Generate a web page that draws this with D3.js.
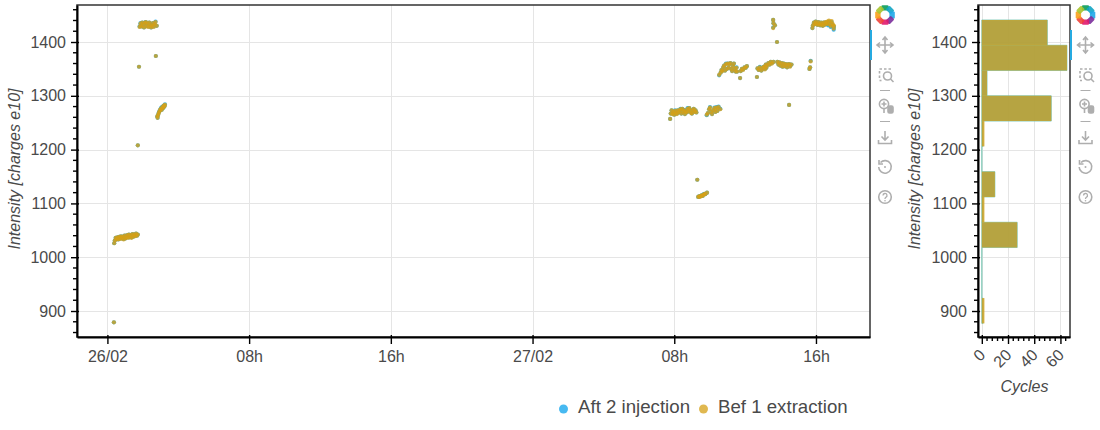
<!DOCTYPE html>
<html>
<head>
<meta charset="utf-8">
<script src="https://cdn.jsdelivr.net/npm/d3@7"></script>
<style>
html,body{margin:0;padding:0;background:#fff;}
svg{display:block;}
text{font-family:"Liberation Sans",Helvetica,Arial,sans-serif;}
</style>
</head>
<body>
<svg id="chart" width="1100" height="430"></svg>
<script>
// ---------- data ----------
const seriesNames = ["Aft 2 injection", "Bef 1 extraction"];
const seriesColors = ["#09a2ec", "#d6a016"];
const startDate = "2021-02-26T00:00:00Z";
// hours since 26/02 00:00
const cycleHours = [
0.37,0.38,0.42,0.47,0.52,0.57,0.62,0.67,0.72,0.77,0.82,0.87,0.92,0.97,1.02,1.07,1.12,1.17,1.22,1.27,1.32,1.37,1.42,1.47,1.52,1.57,1.62,1.67,1.72,
1.72,1.78,1.82,1.87,1.92,1.97,2.02,2.07,2.12,2.17,2.22,2.27,2.32,2.37,2.42,2.47,2.52,2.57,2.62,2.67,2.72,2.78,2.74,
2.81,2.83,2.86,2.90,2.94,2.98,3.02,3.06,3.10,3.14,3.18,3.22,3.25,
31.76,31.80,31.85,31.90,31.95,32.00,32.05,32.10,32.15,32.20,32.25,32.30,32.35,32.40,32.45,32.50,32.55,32.60,32.65,32.70,32.75,32.80,32.85,32.90,32.95,33.00,33.05,33.10,33.15,33.20,33.25,
33.30,33.35,33.40,33.45,33.50,33.55,33.60,33.65,33.70,33.75,33.85,
33.83,33.90,33.96,34.02,34.08,34.14,34.20,34.26,34.32,34.38,34.44,34.50,34.60,
34.53,34.62,34.67,34.72,34.77,34.82,34.87,34.92,34.97,35.02,35.07,35.12,35.17,35.22,35.27,35.32,35.37,35.42,35.47,35.52,35.55,
35.71,35.75,35.82,35.89,35.96,36.03,36.10,
36.67,36.70,36.77,36.84,36.91,36.98,37.05,37.12,37.20,37.10,37.17,37.24,37.31,37.38,37.45,37.52,37.60,
37.58,37.60,37.68,37.58,37.80,
37.82,37.88,37.94,38.00,38.06,38.12,38.18,38.24,38.30,38.36,38.42,38.48,38.54,38.62,
38.48,39.63,39.67,39.70,
39.80,39.84,39.89,39.94,39.99,40.04,40.09,40.14,40.19,40.24,40.29,40.34,40.39,40.44,40.49,40.54,40.59,40.64,40.69,40.74,40.79,40.84,40.89,40.94,40.96,41.00,41.01
];
const befIntensity = [
879,1026,1031,1036,1033,1037,1033,1038,1034,1039,1035,1038,1033,1040,1035,1037,1041,1036,1042,1037,1041,1036,1043,1038,1042,1039,1044,1040,1042,
1208,1354,1428,1434,1429,1436,1431,1427,1435,1437,1429,1434,1428,1436,1431,1427,1430,1435,1428,1433,1437,1430,1374,
1262,1259,1265,1268,1271,1274,1276,1274,1279,1277,1282,1280,1283,
1257,1267,1273,1266,1270,1265,1272,1268,1266,1273,1269,1272,1275,1267,1276,1270,1273,1266,1271,1269,1276,1271,1277,1273,1268,1267,1273,1276,1270,1273,1269,
1144,1112,1113,1112,1114,1115,1114,1116,1118,1117,1120,
1265,1268,1275,1278,1270,1266,1273,1277,1270,1278,1272,1279,1275,
1339,1343,1348,1346,1353,1356,1347,1359,1350,1360,1352,1358,1361,1350,1346,1355,1360,1350,1345,1352,1345,
1333,1346,1350,1348,1353,1352,1355,
1335,1351,1348,1353,1347,1351,1354,1349,1352,1354,1358,1356,1361,1358,1363,1360,1363,
1441,1435,1431,1426,1400,
1363,1358,1362,1356,1361,1354,1360,1355,1359,1353,1358,1359,1354,1358,
1283,1350,1353,1364,
1426,1431,1436,1433,1438,1434,1432,1437,1433,1431,1436,1433,1430,1436,1432,1437,1434,1438,1433,1440,1436,1430,1439,1434,1431,1425,1430
];
const aftIntensity = [
879,1026,1031,1036,1034,1037,1033,1038,1035,1039,1035,1038,1034,1040,1035,1038,1041,1037,1042,1037,1041,1037,1043,1038,1042,1040,1044,1040,1042,
1208,1354,1429,1435,1429,1436,1432,1427,1436,1437,1430,1434,1429,1436,1432,1427,1431,1435,1429,1433,1438,1430,1374,
1262,1259,1265,1269,1271,1274,1277,1274,1280,1277,1282,1280,1284,
1257,1267,1273,1267,1270,1265,1273,1268,1267,1273,1269,1272,1276,1267,1276,1270,1274,1266,1271,1269,1277,1271,1277,1273,1269,1267,1273,1276,1271,1273,1269,
1144,1112,1113,1113,1114,1115,1114,1117,1118,1117,1120,
1264,1268,1275,1279,1270,1266,1273,1278,1270,1279,1272,1280,1276,
1338,1343,1348,1347,1353,1356,1347,1360,1350,1360,1352,1359,1361,1350,1346,1356,1360,1350,1345,1353,1345,
1333,1346,1350,1349,1353,1352,1355,
1335,1351,1348,1354,1347,1351,1354,1350,1352,1354,1358,1357,1361,1358,1363,1361,1363,
1441,1435,1431,1427,1400,
1363,1358,1362,1356,1361,1354,1360,1355,1359,1353,1358,1359,1355,1358,
1283,1350,1353,1365,
1426,1431,1436,1434,1438,1434,1432,1437,1433,1431,1436,1433,1430,1436,1432,1436,1433,1436,1431,1438,1434,1428,1437,1432,1429,1423,1428
];
// histogram bins (intensity edges, top to bottom) and cycle counts
const binEdges = [1441,1394,1347,1300,1253,1206,1159,1112,1065,1018,971,924,877];
const aftCounts = [50,65,4,53,1,0,10,1,27,0,0,1];
const befCounts = [50,65,4,53,2,0,10,2,27,0,0,2];
const yTicks = [900,1000,1100,1200,1300,1400];
const yMinor = [860,880,920,940,960,980,1020,1040,1060,1080,1120,1140,1160,1180,1220,1240,1260,1280,1320,1340,1360,1380,1420,1440,1460];
const xTickHours = [0,8,16,24,32,40];
const xTickLabels = ["26/02","08h","16h","27/02","08h","16h"];
const cycleTicks = [0,20,40,60];
const cycleMinor = [4,8,12,16,24,28,32,36,44,48,52,56,64];
const yTitle = "Intensity [charges e10]";
const cycleTitle = "Cycles";

// ---------- layout ----------
const svg = d3.select("#chart");
const main = {l:77, r:870, t:5, b:337};
const side = {l:978, r:1070, t:5, b:337};
const textColor = "#4a4a4a", gridColor = "#e5e5e5", ALPHA = 0.8;
const tickFont = '"Liberation Sans",sans-serif';

const t0 = new Date(startDate);
const toDate = h => d3.utcMinute.offset(t0, Math.round(h*60));
const x = d3.scaleUtc().domain([toDate(-1.72), toDate(43.05)]).range([main.l, main.r]);
const y = d3.scaleLinear().domain([851.7, 1468.8]).range([main.b, main.t]);
const cx = d3.scaleLinear().domain([-2.9, 67.3]).range([side.l, side.r]);

function frame(p){
  svg.append("rect").attr("x",p.l).attr("y",p.t).attr("width",p.r-p.l).attr("height",p.b-p.t)
     .attr("fill","none").attr("stroke","#333").attr("stroke-width",1.5);
}
function yGrid(p){
  svg.append("g").selectAll("line").data(yTicks).join("line")
    .attr("x1",p.l).attr("x2",p.r).attr("y1",d=>Math.round(y(d))+.5).attr("y2",d=>Math.round(y(d))+.5)
    .attr("stroke",gridColor);
}
function vGrid(vals,scale,p){
  svg.append("g").selectAll("line").data(vals).join("line")
    .attr("y1",p.t).attr("y2",p.b).attr("x1",d=>Math.round(scale(d))+.5).attr("x2",d=>Math.round(scale(d))+.5)
    .attr("stroke",gridColor);
}
function yAxis(p,titleOffset){
  const g = svg.append("g").attr("transform",`translate(${p.l},0)`);
  const ax = d3.axisLeft(y).tickValues(yTicks).tickSizeOuter(0).tickSizeInner(6).tickPadding(5).tickFormat(d3.format("d"));
  g.call(ax);
  g.select(".domain").attr("stroke","#000").attr("stroke-width",2);
  g.selectAll(".tick line").attr("stroke","#000").attr("stroke-width",1.4).attr("x1",2).attr("x2",-6);
  g.selectAll(".tick text").attr("fill",textColor).style("font-size","16px").style("font-family",tickFont);
  g.append("g").selectAll("line").data(yMinor).join("line")
    .attr("x1",-4).attr("x2",0).attr("y1",d=>y(d)).attr("y2",d=>y(d)).attr("stroke","#000").attr("stroke-width",1.4);
  svg.append("text").attr("transform",`translate(${p.l-titleOffset},169) rotate(-90)`)
    .attr("text-anchor","middle").attr("font-style","italic").attr("font-size",16).attr("fill",textColor).text(yTitle);
}

// ---------- main plot ----------
yGrid(main);
vGrid(xTickHours.map(toDate),x,main);
frame(main);
const series = [aftIntensity, befIntensity];
series.forEach((vals,si)=>{
  svg.append("g").selectAll("circle").data(cycleHours).join("circle")
    .attr("cx",d=>x(toDate(d))).attr("cy",(d,i)=>y(vals[i])).attr("r",2.1)
    .attr("fill",seriesColors[si]).attr("fill-opacity",ALPHA);
});
yAxis(main,57);
const gx = svg.append("g").attr("transform",`translate(0,${main.b})`);
gx.call(d3.axisBottom(x).tickValues(xTickHours.map(toDate)).tickSizeOuter(0).tickSizeInner(7).tickPadding(7)
  .tickFormat((d,i)=>xTickLabels[i]));
gx.select(".domain").attr("stroke","#000").attr("stroke-width",2);
gx.selectAll(".tick line").attr("stroke","#000").attr("stroke-width",1.4).attr("y1",-2);
gx.selectAll(".tick text").attr("fill",textColor).style("font-size","16px").style("font-family",tickFont);

// ---------- side histogram ----------
yGrid(side);
vGrid(cycleTicks,cx,side);
frame(side);
[aftCounts,befCounts].forEach((counts,si)=>{
  svg.append("g").selectAll("path").data(counts).join("path")
    .attr("d",(d,i)=>`M${cx(0)},${y(binEdges[i])}H${cx(d)}V${y(binEdges[i+1])}H${cx(0)}Z`)
    .attr("fill",seriesColors[si]).attr("fill-opacity",ALPHA)
    .attr("stroke",si===0?"#7fc9b8":"none").attr("stroke-width",si===0?0.8:0);
});
yAxis(side,58);
const gc = svg.append("g").attr("transform",`translate(0,${side.b})`);
gc.call(d3.axisBottom(cx).tickValues(cycleTicks).tickSizeOuter(0).tickSizeInner(7).tickFormat(d3.format("d")));
gc.select(".domain").attr("stroke","#000").attr("stroke-width",2);
gc.selectAll(".tick line").attr("stroke","#000").attr("stroke-width",1.4).attr("y1",-2);
gc.selectAll(".tick text").attr("fill",textColor).style("font-size","16px").style("font-family",tickFont)
  .attr("text-anchor","end").attr("x",0).attr("y",0).attr("dy",0).attr("dx",0)
  .attr("transform","translate(4,19) rotate(-45)");
gc.append("g").selectAll("line").data(cycleMinor).join("line")
  .attr("x1",d=>cx(d)).attr("x2",d=>cx(d)).attr("y1",0).attr("y2",4).attr("stroke","#000").attr("stroke-width",1.4);
svg.append("text").attr("x",1024.5).attr("y",392).attr("text-anchor","middle").attr("font-style","italic")
  .attr("font-size",16).attr("fill",textColor).text(cycleTitle);

// ---------- legend ----------
const legendX = [563.5,703.5];
seriesNames.forEach((n,i)=>{
  svg.append("circle").attr("cx",legendX[i]).attr("cy",409).attr("r",4.5)
     .attr("fill",seriesColors[i]).attr("fill-opacity",0.75);
  svg.append("text").attr("x",legendX[i]+14.5).attr("y",413).attr("font-size",18.67).attr("fill",textColor).text(n);
});

// ---------- toolbars ----------
const logoColors = ["#0a9c5a","#12a5c4","#1fa8e8","#7b2d9b","#e0186c","#f0443a","#f9a11b","#a9c52f"];
function toolbar(cxp, barX){
  svg.append("rect").attr("x",barX).attr("y",30).attr("width",2).attr("height",30).attr("fill","#26aae1");
  const g = svg.append("g").attr("transform",`translate(${cxp},0)`).attr("fill","none").attr("stroke","#aeaeae").attr("stroke-width",1.6);
  const lg = svg.append("g").attr("transform",`translate(${cxp},15)`);
  logoColors.forEach((c,i)=>{
    lg.append("rect").attr("x",-3.6).attr("y",-9.8).attr("width",7.2).attr("height",5.4).attr("rx",1.2)
      .attr("transform",`rotate(${i*45})`).attr("fill",c).attr("fill-opacity",.9);
  });
  // pan
  g.append("path").attr("d","M0,37V53M-8,45H8M-2.5,40L0,37L2.5,40M-2.5,50L0,53L2.5,50M-5,42.5L-8,45L-5,47.5M5,42.5L8,45L5,47.5");
  // box zoom
  g.append("path").attr("d","M-5.5,78V69H6.5").attr("stroke-dasharray","2.5 2");
  g.append("path").attr("d","M-5.5,80.5H-2").attr("stroke-dasharray","2 1.5");
  g.append("circle").attr("cx",2.5).attr("cy",76).attr("r",4);
  g.append("path").attr("d","M5.5,79L8.5,82");
  g.append("line").attr("x1",-5).attr("x2",5).attr("y1",90.5).attr("y2",90.5).attr("stroke-width",1);
  // wheel zoom
  g.append("circle").attr("cx",-1).attr("cy",104).attr("r",4.6);
  g.append("path").attr("d","M-3.5,104H1.5M-1,101.5V106.5M-1,108.6V113");
  g.append("rect").attr("x",3).attr("y",106).attr("width",5).attr("height",7).attr("rx",1.5).attr("fill","#aeaeae");
  g.append("line").attr("x1",-5).attr("x2",5).attr("y1",121.5).attr("y2",121.5).attr("stroke-width",1);
  // save
  g.append("path").attr("d","M0,131V140M-3.5,136.5L0,140L3.5,136.5M-6.5,140V143.5H6.5V140");
  // reset
  g.append("path").attr("d","M-4.5,162.5A6.3,6.3 0 1 1 -6.3,167");
  g.append("path").attr("d","M-6,160V164H-2");
  g.append("circle").attr("cx",0).attr("cy",167).attr("r",1).attr("fill","#aeaeae").attr("stroke","none");
  // help
  g.append("circle").attr("cx",0).attr("cy",197).attr("r",6.3);
  g.append("path").attr("d","M-2,195.5A2,2 0 1 1 0.8,197.3C0,197.8 0,198 0,199").attr("stroke-width",1.3);
  g.append("circle").attr("cx",0).attr("cy",200.7).attr("r",.8).attr("fill","#aeaeae").attr("stroke","none");
}
toolbar(885,870);
toolbar(1085.5,1070);
</script>
</body>
</html>
